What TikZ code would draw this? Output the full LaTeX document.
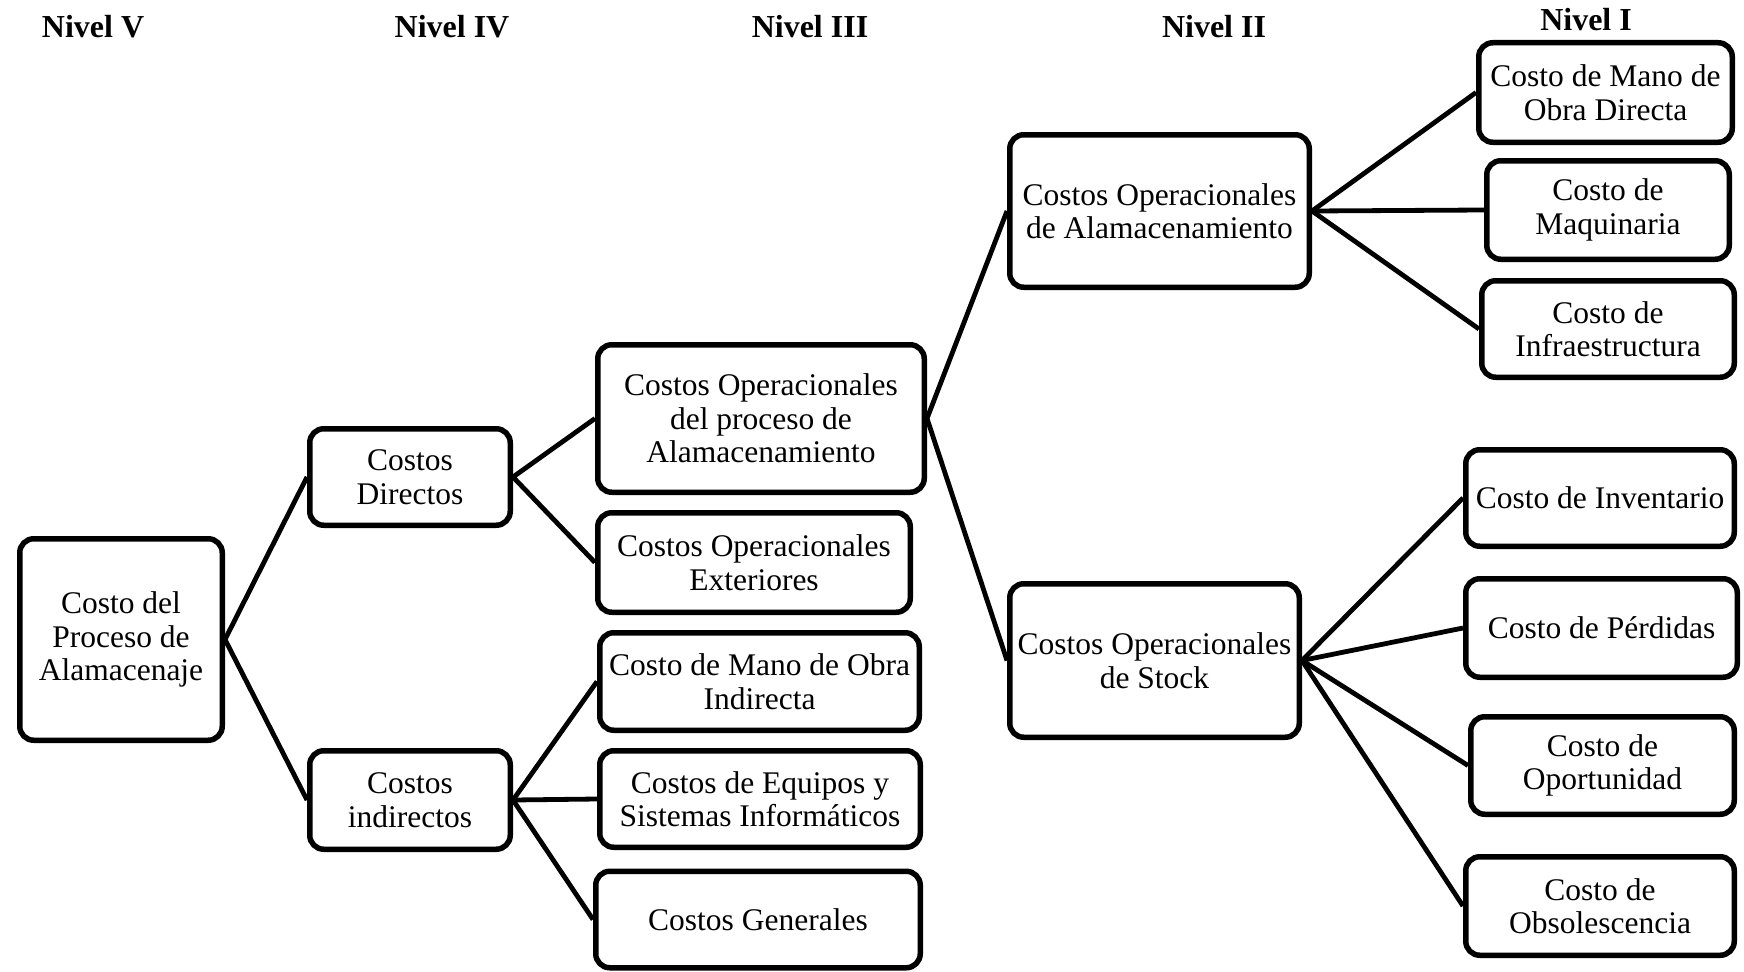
\documentclass[tikz,border=0pt]{standalone}
\usepackage{fontspec}
\setmainfont{Liberation Serif}
\begin{document}
\begin{tikzpicture}[x=1pt,y=-1pt,
  box/.style={draw, line width=5.5pt, rounded corners=14pt, align=center, inner sep=0pt,
    font=\fontsize{31.5}{33.5}\selectfont},
  sz/.style 2 args={minimum width=#1pt, minimum height=#2pt},
  conn/.style={line width=4.8pt},
  lvl/.style={font=\bfseries\fontsize{32}{34}\selectfont, anchor=base}]
\useasboundingbox (0,0) rectangle (1744,971);
% level titles
\node[lvl] (l5) at (93,38) {Nivel V};
\node[lvl] (l4) at (452,38) {Nivel IV};
\node[lvl] (l3) at (810,38) {Nivel III};
\node[lvl] (l2) at (1214,38) {Nivel II};
\node[lvl] (l1) at (1586,31) {Nivel I};
% boxes
\node[box, sz={202.5}{201.5}] (root) at (121,639.5) {Costo del\\Proceso de\\Alamacenaje};
\node[box, sz={200.5}{96.5}] (dir) at (410,477) {Costos\\Directos};
\node[box, sz={200.5}{98.5}] (ind) at (410,800) {Costos\\indirectos};
\node[box, sz={326.5}{147.5}] (opp) at (761,418.5) {Costos Operacionales\\del proceso de\\Alamacenamiento};
\node[box, sz={312.5}{99.5}] (ext) at (754,562.5) {Costos Operacionales\\Exteriores};
\node[box, sz={319.5}{97.5}] (moi) at (759.5,681.5) {Costo de Mano de Obra\\Indirecta};
\node[box, sz={320.5}{96.5}] (equ) at (760,799) {Costos de Equipos y\\Sistemas Informáticos};
\node[box, sz={324.5}{96.5}] (gen) at (758,919.5) {Costos Generales};
\node[box, sz={299.5}{152.5}] (alam) at (1159.5,211) {Costos Operacionales\\de Alamacenamiento};
\node[box, sz={289.5}{153.5}] (stock) at (1154.5,660.5) {Costos Operacionales\\de Stock};
\node[box, sz={253.5}{99.5}] (mod) at (1605.5,92.5) {Costo de Mano de\\Obra Directa};
\node[box, sz={242.5}{98.5}] (maq) at (1608,210) {Costo de\\Maquinaria};
\node[box, sz={252.5}{96.5}] (inf) at (1608,329) {Costo de\\Infraestructura};
\node[box, sz={268.5}{96.5}] (inv) at (1600,498) {Costo de Inventario};
\node[box, sz={271.5}{98.5}] (per) at (1601.5,628) {Costo de Pérdidas};
\node[box, sz={263.5}{97.5}] (opo) at (1602.5,765.5) {Costo de\\Oportunidad};
\node[box, sz={268.5}{98.5}] (obs) at (1600,906) {Costo de\\Obsolescencia};
% connectors
\draw[conn] (root.east) -- (dir.west);
\draw[conn] (root.east) -- (ind.west);
\draw[conn] (dir.east) -- (opp.west);
\draw[conn] (dir.east) -- (ext.west);
\draw[conn] (ind.east) -- (moi.west);
\draw[conn] (ind.east) -- (equ.west);
\draw[conn] (ind.east) -- (gen.west);
\draw[conn] (opp.east) -- (alam.west);
\draw[conn] (opp.east) -- (stock.west);
\draw[conn] (alam.east) -- (mod.west);
\draw[conn] (alam.east) -- (maq.west);
\draw[conn] (alam.east) -- (inf.west);
\draw[conn] (stock.east) -- (inv.west);
\draw[conn] (stock.east) -- (per.west);
\draw[conn] (stock.east) -- (opo.west);
\draw[conn] (stock.east) -- (obs.west);
\end{tikzpicture}
\end{document}
